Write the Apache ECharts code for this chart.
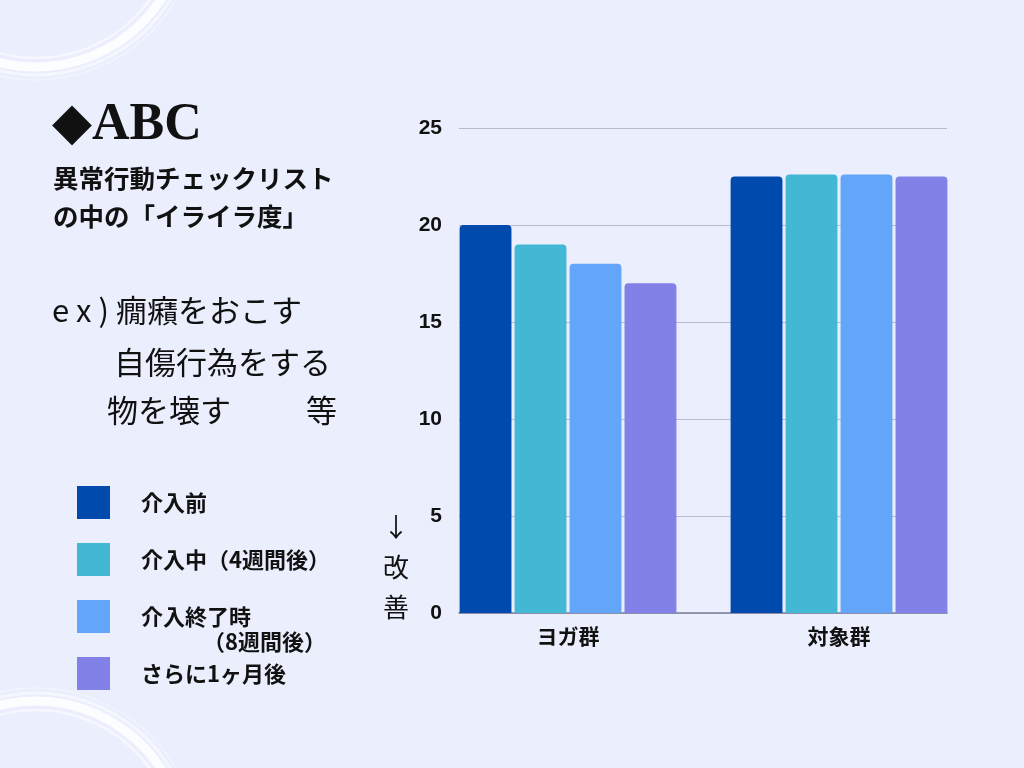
<!DOCTYPE html>
<html>
<head>
    <meta charset="utf-8">
    <title>ECharts</title>
    <script src="https://cdn.jsdelivr.net/npm/echarts@6/dist/echarts.min.js"></script>
    <style>
        html, body { margin: 0; padding: 0; background: #EBEEFD; }
    </style>
</head>
<body>
    <div id="chart" style="width: 1024px;height:768px;"></div>
    <script type="text/javascript">
        // data
        var categories = ['ヨガ群', '対象群'];
        var seriesNames = ['介入前', '介入中（4週間後）', '介入終了時', 'さらに1ヶ月後'];
        var beforeValues = [20, 22.5];
        var midValues = [19, 22.6];
        var endValues = [18, 22.6];
        var laterValues = [17, 22.5];
        var yMin = 0, yMax = 25, yStep = 5;

        var colors = ['#004AAD', '#42B8D5', '#63A5F8', '#8181E8'];
        var cjk = '"Noto Sans CJK JP", "Noto Sans", sans-serif';

        var Chart = echarts.init(document.getElementById('chart'));

        function bar(i, values) {
            return {
                name: seriesNames[i], type: 'bar', data: values,
                xAxisIndex: 0, yAxisIndex: 0,
                barGap: '6%', barCategoryGap: '20%',
                itemStyle: { color: colors[i], borderRadius: [4, 4, 0, 0] },
                z: 3
            };
        }

        // brush-like white arcs in the corners
        function arcs(cx, cy, a0, a1) {
            var list = [
                { r: 149, w: 9, o: 0.85 },
                { r: 140, w: 2.5, o: 0.55 },
                { r: 157, w: 3, o: 0.5 },
                { r: 162, w: 1.5, o: 0.35 }
            ];
            return list.map(function (s) {
                return {
                    type: 'arc', silent: true, z: -1,
                    shape: { cx: cx, cy: cy, r: s.r, startAngle: a0, endAngle: a1, clockwise: true },
                    style: { stroke: 'rgba(255,255,255,' + s.o + ')', fill: null, lineWidth: s.w }
                };
            });
        }

        var texts = [
            { x: 52, y: 126, text: '◆ABC', font: 'bold 52px "Liberation Serif", "DejaVu Serif", serif' },
            { x: 53, y: 178, text: '異常行動チェックリスト', font: 'bold 25.5px ' + cjk },
            { x: 53, y: 216, text: 'の中の「イライラ度」', font: 'bold 25.5px ' + cjk },
            { x: 52, y: 310, text: 'e x ) 癇癪をおこす', font: '31px ' + cjk },
            { x: 114, y: 362, text: '自傷行為をする', font: '31px ' + cjk },
            { x: 107, y: 410, text: '物を壊す', font: '31px ' + cjk },
            { x: 306, y: 410, text: '等', font: '31px ' + cjk },
            // second line of the third legend entry
            { x: 203, y: 642, text: '（8週間後）', font: 'bold 22px ' + cjk }
        ].map(function (t) {
            return {
                type: 'text', silent: true, x: t.x, y: t.y, z: 5,
                style: { text: t.text, font: t.font, fill: '#111', textVerticalAlign: 'middle' }
            };
        });

        texts.push({
            type: 'text', silent: true, x: 396, y: 567, z: 5,
            style: {
                text: '↓\n改\n善', font: '26px ' + cjk, fill: '#111',
                textAlign: 'center', textVerticalAlign: 'middle', lineHeight: 40
            }
        });

        var option = {
            backgroundColor: '#EBEEFD',
            animation: false,
            textStyle: { fontFamily: cjk },
            legend: {
                orient: 'vertical', left: 77, top: 486, padding: 0,
                itemWidth: 33, itemHeight: 33, itemGap: 24,
                icon: 'rect', selectedMode: false,
                data: seriesNames,
                textStyle: {
                    fontSize: 22, fontWeight: 'bold', color: '#111', fontFamily: cjk,
                    padding: [0, 0, 0, 26]
                }
            },
            grid: [
                { left: 432.5, right: 49.5, top: 128, bottom: 155 },
                { left: 459, right: 77, top: 128, bottom: 155 }
            ],
            xAxis: [
                {
                    gridIndex: 0, type: 'category', data: categories,
                    axisLine: { show: false }, axisTick: { show: false },
                    axisLabel: { fontSize: 21, fontWeight: 'bold', color: '#111', fontFamily: cjk, margin: 13 }
                },
                {
                    gridIndex: 1, type: 'category', data: categories,
                    axisLine: { show: true, lineStyle: { color: '#7C8199', width: 1.5 } },
                    axisTick: { show: false }, axisLabel: { show: false }
                }
            ],
            yAxis: [
                {
                    gridIndex: 0, type: 'value', min: yMin, max: yMax, interval: yStep,
                    show: false, splitLine: { show: false }
                },
                {
                    gridIndex: 1, type: 'value', min: yMin, max: yMax, interval: yStep,
                    axisLine: { show: false }, axisTick: { show: false },
                    axisLabel: { fontSize: 21, fontWeight: 'bold', color: '#111', fontFamily: '"Liberation Sans", Arial, sans-serif', margin: 17 },
                    splitLine: { lineStyle: { color: '#B7BBD2', width: 1 } }
                }
            ],
            graphic: arcs(36, -82, 0.3, 2.05).concat(arcs(36, 850, 4.25, 5.98)).concat(texts),
            series: [
                bar(0, beforeValues),
                bar(1, midValues),
                bar(2, endValues),
                bar(3, laterValues)
            ]
        };
        Chart.setOption(option);
    </script>
</body>
</html>
